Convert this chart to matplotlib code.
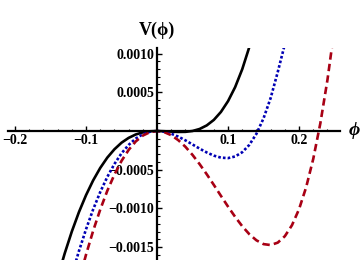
import numpy as np
import matplotlib
matplotlib.use('Agg')
import matplotlib.pyplot as plt

# curves (V in units of 1e-3)
phi_black = [-0.14, -0.13, -0.12, -0.11, -0.10, -0.09, -0.08, -0.07, -0.06, -0.05, -0.04, -0.03, -0.02, -0.01,
             0.0, 0.01, 0.02, 0.03, 0.04, 0.05, 0.06, 0.07, 0.08, 0.09, 0.10, 0.11, 0.12, 0.13, 0.14]
v_black = [-1.893, -1.579, -1.297, -1.047, -0.828, -0.638, -0.477, -0.343, -0.236, -0.151, -0.089, -0.045, -0.018, -0.004,
           0.0, -0.003, -0.008, -0.012, -0.011, 0.0, 0.026, 0.072, 0.143, 0.246, 0.385, 0.566, 0.797, 1.084, 1.433]

phi_blue = [-0.12, -0.11, -0.10, -0.09, -0.08, -0.07, -0.06, -0.05, -0.04, -0.03, -0.02, -0.01,
            0.0, 0.01, 0.02, 0.03, 0.04, 0.05, 0.06, 0.07, 0.08, 0.09, 0.10, 0.11, 0.12, 0.13, 0.14,
            0.15, 0.16, 0.17, 0.18, 0.19]
v_blue = [-1.860, -1.550, -1.268, -1.013, -0.788, -0.592, -0.426, -0.288, -0.180, -0.098, -0.042, -0.010,
          0.0, -0.009, -0.035, -0.073, -0.121, -0.174, -0.228, -0.277, -0.318, -0.344, -0.350, -0.329, -0.274, -0.179, -0.036,
          0.163, 0.425, 0.760, 1.120, 1.682]

phi_red = [-0.11, -0.10, -0.09, -0.08, -0.07, -0.06, -0.05, -0.04, -0.03, -0.02, -0.01,
           0.0, 0.01, 0.02, 0.03, 0.04, 0.05, 0.06, 0.07, 0.08, 0.09, 0.10, 0.11, 0.12, 0.13, 0.14,
           0.15, 0.16, 0.17, 0.18, 0.19, 0.20, 0.21, 0.22, 0.23, 0.24, 0.25]
v_red = [-1.934, -1.596, -1.289, -1.014, -0.771, -0.562, -0.386, -0.244, -0.135, -0.059, -0.015,
         0.0, -0.014, -0.054, -0.119, -0.204, -0.309, -0.428, -0.558, -0.696, -0.837, -0.976, -1.108, -1.229, -1.332, -1.411,
         -1.460, -1.472, -1.441, -1.358, -1.217, -1.010, -0.727, -0.361, 0.098, 0.658, 1.331]

x_ticks = [-0.2, -0.1, 0.1, 0.2]
x_ticklabels = ['\u22120.2', '\u22120.1', '0.1', '0.2']
y_ticks = [-0.0015, -0.0010, -0.0005, 0.0005, 0.0010]
y_ticklabels = ['\u22120.0015', '\u22120.0010', '\u22120.0005', '0.0005', '0.0010']

serif = ['Liberation Serif', 'DejaVu Serif']

fig = plt.figure(figsize=(3.6, 2.6), dpi=100)
ax = fig.add_axes([8 / 360, 0.0, 332 / 360, 212 / 260])

ax.plot(phi_black, np.array(v_black) * 1e-3, color='black', lw=1.9, solid_capstyle='butt')
ax.plot(phi_blue, np.array(v_blue) * 1e-3, color='#0000b4', lw=1.9, dashes=(1.0, 0.8), dash_capstyle='butt')
ax.plot(phi_red, np.array(v_red) * 1e-3, color='#a80014', lw=1.9, dashes=(2.8, 1.6), dash_capstyle='butt')

ax.set_xlim(-0.2099, 0.2577)
ax.set_ylim(-1.665e-3, 1.071e-3)

# mathematica style axes through the origin
for side in ['top', 'right']:
    ax.spines[side].set_visible(False)
ax.spines['left'].set_position(('data', 0))
ax.spines['bottom'].set_position(('data', 0))
ax.spines['left'].set_linewidth(1.6)
ax.spines['bottom'].set_linewidth(1.6)

ax.set_xticks(x_ticks)
ax.set_xticklabels(x_ticklabels)
ax.set_yticks(y_ticks)
ax.set_yticklabels(y_ticklabels)
ax.set_xticks(np.arange(-0.20, 0.26, 0.02), minor=True)
ax.set_yticks(np.arange(-0.0016, 0.00105, 0.0001), minor=True)
ax.tick_params(which='major', direction='in', length=3.5, width=1.0, pad=2)
ax.tick_params(which='minor', direction='in', length=1.8, width=0.8)
for lab in ax.get_xticklabels() + ax.get_yticklabels():
    lab.set_family(serif)
    lab.set_weight('bold')
    lab.set_fontsize(10)

ax.text(0.0, 1.071e-3 + 0.00023, 'V(\u03d5)', family=serif, fontweight='bold', fontsize=13,
        ha='center', va='center', clip_on=False)
ax.text(1.0 + 14 / 332, 0.0, '\u03d5', transform=ax.get_yaxis_transform(), family=serif,
        fontweight='bold', style='italic', fontsize=14, ha='center', va='center', clip_on=False)

fig.savefig('out.png', dpi=100)
